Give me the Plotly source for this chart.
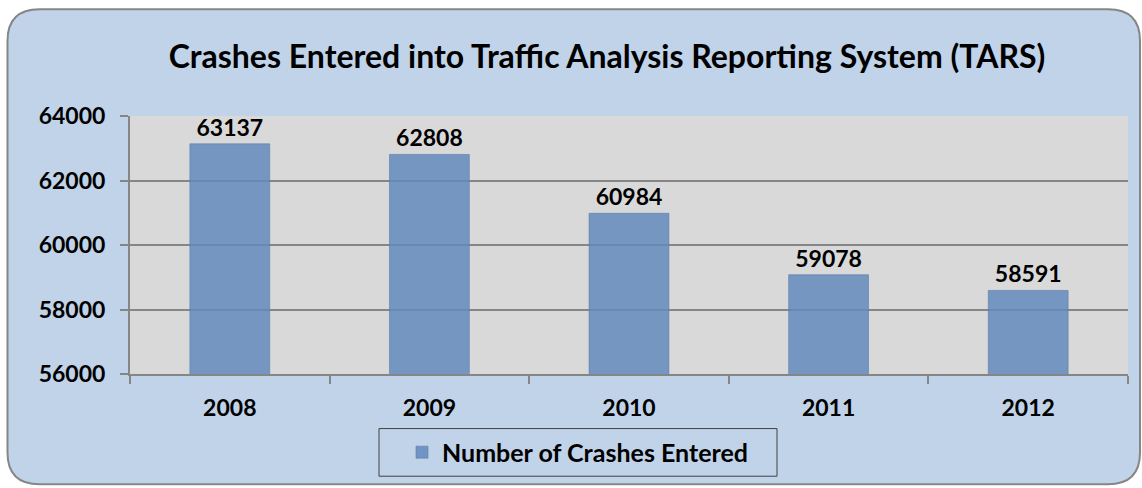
import plotly.graph_objects as go

years = ["2008", "2009", "2010", "2011", "2012"]
crashes = [63137, 62808, 60984, 59078, 58591]
series_name = "Number of Crashes Entered"
title_text = "Crashes Entered into Traffic Analysis Reporting System (TARS)"
y_ticks = [56000, 58000, 60000, 62000, 64000]

FONT = "Lato"

fig = go.Figure()
fig.add_trace(go.Bar(
    x=years, y=crashes, name=series_name,
    marker=dict(color="rgba(97,138,188,0.85)",
                line=dict(color="rgba(90,125,170,0.6)", width=1)),
    text=[str(v) for v in crashes], textposition="outside",
    textfont=dict(family=FONT, size=23, color="black", weight="bold"),
    cliponaxis=False,
    showlegend=True,
))

W, H = 1142, 488
L, R, T, B = 130, 14, 116, 112

def px_to_paper_x(px):
    return (px - L) / (W - L - R)

def px_to_paper_y(py):
    return (H - B - py) / (H - T - B)

# outer rounded rectangle
x0, x1 = px_to_paper_x(7.5), px_to_paper_x(1140)
y0, y1 = px_to_paper_y(487), px_to_paper_y(8.5)
rx = 32 / (W - L - R)
ry = 32 / (H - T - B)
path = (f"M {x0+rx},{y1} L {x1-rx},{y1} Q {x1},{y1} {x1},{y1-ry} "
        f"L {x1},{y0+ry} Q {x1},{y0} {x1-rx},{y0} "
        f"L {x0+rx},{y0} Q {x0},{y0} {x0},{y0+ry} "
        f"L {x0},{y1-ry} Q {x0},{y1} {x0+rx},{y1} Z")
fig.add_shape(type="path", path=path, xref="paper", yref="paper",
              fillcolor="#c0d3e8", line=dict(color="#868686", width=2), layer="below")
# plot area background
fig.add_shape(type="rect", xref="paper", yref="paper", x0=0, x1=1, y0=0, y1=1,
              fillcolor="#d9d9d9", line=dict(width=0), layer="below")

# legend box
fig.add_shape(type="rect", xref="paper", yref="paper",
              x0=px_to_paper_x(379), x1=px_to_paper_x(777),
              y0=px_to_paper_y(479), y1=px_to_paper_y(431),
              line=dict(color="#404040", width=1), fillcolor="rgba(0,0,0,0)")

fig.update_layout(
    width=W, height=H,
    margin=dict(l=L, r=R, t=T, b=B),
    paper_bgcolor="white",
    plot_bgcolor="#d9d9d9",
    font=dict(family=FONT, color="black"),
    title=dict(text=title_text, x=607 / W, xanchor="center", xref="container",
               y=1 - 57 / H, yanchor="middle",
               font=dict(family=FONT, size=32, color="black", weight="bold")),
    bargap=0.6,
    showlegend=True,
    legend=dict(orientation="h", x=px_to_paper_x(578), xanchor="center",
                y=px_to_paper_y(455), yanchor="middle",
                bgcolor="rgba(0,0,0,0)", borderwidth=0,
                font=dict(family=FONT, size=25, color="black", weight="bold")),
    xaxis=dict(showline=True, linecolor="#868686", linewidth=2,
               ticks="outside", ticklen=8, tickcolor="#868686", tickwidth=2,
               tickson="boundaries", showgrid=False,
               tickfont=dict(family=FONT, size=23, color="black", weight="bold"),
               ticklabelstandoff=12),
    yaxis=dict(range=[56000, 64000], tickvals=y_ticks, tickformat="d",
               showline=True, linecolor="#868686", linewidth=2,
               ticks="outside", ticklen=8, tickcolor="#868686", tickwidth=2,
               showgrid=True, gridcolor="#868686", gridwidth=1.5,
               zeroline=False,
               tickfont=dict(family=FONT, size=23, color="black", weight="bold"),
               ticklabelstandoff=10),
)

fig.write_html("out.html", config={"displayModeBar": False},
               post_script="document.body.style.margin='0';document.body.style.overflow='hidden';")
